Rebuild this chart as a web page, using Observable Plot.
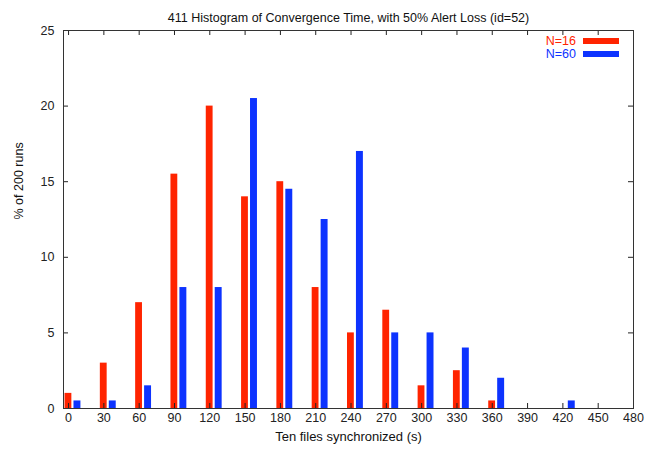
<!DOCTYPE html>
<html><head><meta charset="utf-8">
<script src="https://cdn.jsdelivr.net/npm/d3@7"></script>
<script src="https://cdn.jsdelivr.net/npm/@observablehq/plot@0.6"></script>
<style>
body{margin:0;background:#fff;font-family:"Liberation Sans",Arial,Helvetica,sans-serif;}
#wrap{position:relative;width:657px;height:450px;}
.leg{position:absolute;font-size:12.5px;line-height:12px;}
.sw{position:absolute;width:36px;height:6px;}
</style>
</head><body>
<div id="wrap"></div>
<script>
const title = "411 Histogram of Convergence Time, with 50% Alert Loss (id=52)";
const xLabel = "Ten files synchronized (s)";
const yLabel = "% of 200 runs";
const xTicks = [0,30,60,90,120,150,180,210,240,270,300,330,360,390,420,450,480];
const yTicks = [0,5,10,15,20,25];
const series = ["N=16","N=60"];
const colors = ["#ff2400","#0d33ff"];
const binsN16 = [0,30,60,90,120,150,180,210,240,270,300,330,360];
const valsN16 = [1,3,7,15.5,20,14,15,8,5,6.5,1.5,2.5,0.5];
const binsN60 = [0,30,60,90,120,150,180,210,240,270,300,330,360,420];
const valsN60 = [0.5,0.5,1.5,8,8,20.5,14.5,12.5,17,5,5,4,2,0.5];

const red = binsN16.map((x,i)=>({x, v: valsN16[i]}));
const blue = binsN60.map((x,i)=>({x, v: valsN60[i]}));

const W = 657, H = 450, mT = 30, mB = 42, mL = 63, mR = 24;
const ph = H - mT - mB, pw = W - mL - mR;
const font = "Liberation Sans, Arial, Helvetica, sans-serif";

const chart = Plot.plot({
  width: W, height: H,
  marginTop: mT, marginBottom: mB, marginLeft: mL, marginRight: mR,
  style: {fontFamily: font, fontSize: "12.5px", color: "#222", background: "#fff"},
  x: {domain: [-4.3, 480]},
  y: {domain: [0, 25]},
  marks: [
    Plot.rectY(red, {x1: d => d.x - 3, x2: d => d.x + 2.8, y: "v", fill: colors[0]}),
    Plot.rectY(blue, {x1: d => d.x + 4.6, x2: d => d.x + 10.5, y: "v", fill: colors[1]}),
    // inward ticks, bottom & top
    Plot.tickX(xTicks, {x: d => d, insetTop: ph - 5, stroke: "#222"}),
    Plot.tickX(xTicks, {x: d => d, insetBottom: ph - 5, stroke: "#222"}),
    // inward ticks, left & right
    Plot.tickY(yTicks, {y: d => d, insetRight: pw - 5, stroke: "#222"}),
    Plot.tickY(yTicks, {y: d => d, insetLeft: pw - 5, stroke: "#222"}),
    Plot.axisX(xTicks, {anchor: "bottom", tickSize: 0, tickPadding: 5, fontSize: 12.5, label: null}),
    Plot.axisY(yTicks, {anchor: "left", tickSize: 0, tickPadding: 9, fontSize: 12.5, label: null}),
    Plot.frame({stroke: "#333", strokeWidth: 1}),
    Plot.text([title], {frameAnchor: "top", dy: -17, fontSize: 12.5, fill: "#111"}),
    Plot.text([xLabel], {frameAnchor: "bottom", dy: 32, fontSize: 13, fill: "#111"}),
    Plot.text([yLabel], {frameAnchor: "left", dx: -45, rotate: -90, fontSize: 12.5, fill: "#111"})
  ]
});
const wrap = document.getElementById("wrap");
wrap.appendChild(chart);
// legend overlay, top-right inside the frame
series.forEach((s, i) => {
  const t = document.createElement("div");
  t.className = "leg";
  t.textContent = s;
  t.style.color = colors[i];
  t.style.right = (W - 576) + "px";
  t.style.top = (35 + i * 13) + "px";
  wrap.appendChild(t);
  const sw = document.createElement("div");
  sw.className = "sw";
  sw.style.background = colors[i];
  sw.style.left = "583px";
  sw.style.top = (38 + i * 13) + "px";
  wrap.appendChild(sw);
});
</script>
</body></html>
